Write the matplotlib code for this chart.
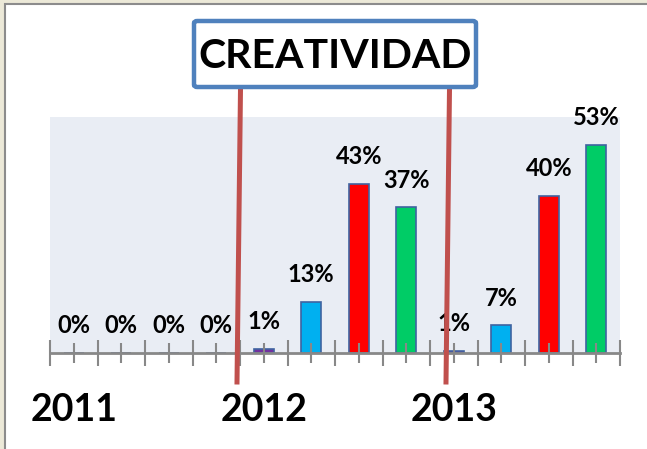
import matplotlib.pyplot as plt
from matplotlib.patches import Rectangle, FancyBboxPatch
from matplotlib.lines import Line2D
import numpy as np

# data
values = [0, 0, 0, 0, 1, 13, 43, 37, 0.5, 7, 40, 53]
labels = ['0%', '0%', '0%', '0%', '1%', '13%', '43%', '37%', '1%', '7%', '40%', '53%']
colors = ['#7030A0', '#00B0F0', '#FF0000', '#00CC66',
          '#7030A0', '#00B0F0', '#FF0000', '#00CC66',
          '#7030A0', '#00B0F0', '#FF0000', '#00CC66']
years = ['2011', '2012', '2013']
year_pos = [0, 4, 8]
title = 'CREATIVIDAD'

W, H = 647, 449
fig = plt.figure(figsize=(W/100, H/100), dpi=100, facecolor='#ECE9D8')

def fx(x):
    return x / W

def fy(y):
    return 1 - y / H

# white slide area with grey border on left/top
fig.patches.append(Rectangle((fx(4.5), -0.1), 1.2, fy(4.5) + 0.1, transform=fig.transFigure,
                             facecolor='white', edgecolor='#8C8C8C', lw=1.5, zorder=-1))

ax = fig.add_axes([fx(50), fy(353), fx(620) - fx(50), fy(117) - fy(353)])
ax.set_facecolor('#E9EDF4')
x = np.arange(len(values))
ax.bar(x, values, width=0.42, color=colors, edgecolor='#3F63A0', linewidth=1.2, zorder=1)
ax.set_xlim(-0.5, len(values) - 0.5)
ax.set_ylim(0, 60)

for s in ['top', 'right', 'left']:
    ax.spines[s].set_visible(False)
ax.spines['bottom'].set_color('#888888')
ax.spines['bottom'].set_linewidth(2)
ax.set_yticks([])
ax.set_xticks(np.arange(len(values) + 1) - 0.5)
ax.set_xticks(x, minor=True)
ax.tick_params(axis='x', which='major', direction='inout', length=19, width=1.5,
               color='#888888', labelbottom=False)
ax.tick_params(axis='x', which='minor', direction='inout', length=14, width=1.5,
               color='#888888', labelbottom=False)

for xi, v, lab in zip(x, values, labels):
    ax.annotate(lab, (xi, v), xytext=(0, 19.5), textcoords='offset points',
                ha='center', va='center', fontsize=17, fontweight='bold',
                family='Lato', color='black', annotation_clip=False)

for p, yr in zip(year_pos, years):
    ax.text(p, -0.24, yr, transform=ax.get_xaxis_transform(), ha='center', va='center',
            fontsize=27, fontweight='bold', family='Lato', color='black')

# red connector lines
for (x0, x1) in [(240.5, 237), (449.5, 446)]:
    fig.lines.append(Line2D([fx(x0), fx(x1)], [fy(89), fy(382)], transform=fig.transFigure,
                            color='#C0504D', lw=3.6, zorder=5))

# title box
fig.patches.append(FancyBboxPatch((fx(194), fy(87)), fx(476) - fx(194), fy(21) - fy(87),
                                  boxstyle='round,pad=0,rounding_size=0.005',
                                  transform=fig.transFigure, facecolor='white',
                                  edgecolor='#4F81BD', lw=3.2, zorder=6))
fig.text(fx(335), fy(56), title, ha='center', va='center', fontsize=29.5,
         fontweight='bold', family='Lato', color='black', zorder=7)

fig.savefig('out.png', dpi=100, facecolor=fig.get_facecolor())
